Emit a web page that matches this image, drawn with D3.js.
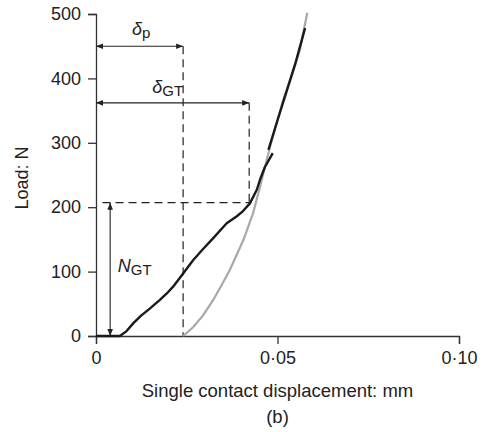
<!DOCTYPE html>
<html>
<head>
<meta charset="utf-8">
<script src="https://cdn.jsdelivr.net/npm/d3@7"></script>
<style>
  body { margin: 0; background: #fff; }
  svg { display: block; font-family: 'Liberation Sans', Arial, sans-serif; }
</style>
</head>
<body>
<div id="chart"></div>
<script>
// black loading curve (lower part)
const lowerX = [0, 0.0066, 0.0085, 0.0103, 0.0125, 0.0149, 0.0176, 0.0195, 0.0213, 0.024, 0.0268, 0.0295, 0.0323, 0.036, 0.0388, 0.0405, 0.0424, 0.0443, 0.0452, 0.0465, 0.0487]
const lowerY = [0, 0, 8, 20, 32, 43, 56, 66, 77, 97, 118, 135, 152, 175, 186, 194, 206, 227, 243, 262, 284]

// black curve (upper part)
const upperX = [0.0475, 0.05, 0.0525, 0.055, 0.0576]
const upperY = [289, 335, 380, 425, 478]

// grey curve
const greyX = [0.024, 0.0268, 0.0295, 0.0323, 0.0345, 0.0369, 0.0406, 0.0433, 0.0452, 0.048, 0.0516, 0.054, 0.0562, 0.0582]
const greyY = [0, 14, 32, 56, 78, 103, 149, 191, 232, 295, 367, 405, 445, 502]

const xTicks = [0, 0.05, 0.1]
const xTickLabels = ['0', '0·05', '0·10']
const yTicks = [0, 100, 200, 300, 400, 500]

// annotation values
const deltaP = 0.024
const deltaGT = 0.0422
const nGT = 207
const nGTx = 0.0039
const deltaPLoad = 450
const deltaGTLoad = 362

const margin = { top: 14, right: 23, bottom: 96, left: 96 }
const width = 482 - margin.left - margin.right
const height = 432 - margin.top - margin.bottom

const svg = d3
  .select('#chart')
  .append('svg')
  .attr('width', 482)
  .attr('height', 432)

const defs = svg.append('defs')
defs.append('marker')
  .attr('id', 'arrow')
  .attr('viewBox', '0 0 10 10')
  .attr('refX', 10)
  .attr('refY', 5)
  .attr('markerWidth', 7)
  .attr('markerHeight', 7)
  .attr('markerUnits', 'userSpaceOnUse')
  .attr('orient', 'auto-start-reverse')
  .append('path')
  .attr('d', 'M0,1 L10,5 L0,9 Z')
  .attr('fill', '#222')

const g = svg.append('g')
  .attr('transform', 'translate(' + margin.left + ',' + margin.top + ')')

const x = d3.scaleLinear().domain([0, 0.1]).range([0, width])
const y = d3.scaleLinear().domain([0, 500]).range([height, 0])

const xAxis = d3.axisBottom(x)
  .tickValues(xTicks)
  .tickFormat((d, i) => xTickLabels[i])
  .tickSizeOuter(0)
  .tickSize(8)
  .tickPadding(7)

const yAxis = d3.axisLeft(y)
  .tickValues(yTicks)
  .tickSizeOuter(0)
  .tickSize(8)
  .tickPadding(7)

g.append('g')
  .attr('transform', 'translate(0,' + height + ')')
  .call(xAxis)
g.append('g').call(yAxis)

g.selectAll('.domain, .tick line')
  .attr('stroke', '#333')
  .attr('stroke-width', 1.3)
g.selectAll('.tick text')
  .attr('fill', '#222')
  .attr('font-size', 18)
  .attr('font-family', "'Liberation Sans', Arial, sans-serif")

// dashed guide lines
const dash = '8,5'
g.append('line')
  .attr('x1', x(deltaP)).attr('x2', x(deltaP))
  .attr('y1', y(deltaPLoad)).attr('y2', y(0))
  .attr('stroke', '#222').attr('stroke-width', 1.2).attr('stroke-dasharray', dash)
g.append('line')
  .attr('x1', x(deltaGT)).attr('x2', x(deltaGT))
  .attr('y1', y(deltaGTLoad)).attr('y2', y(nGT))
  .attr('stroke', '#222').attr('stroke-width', 1.2).attr('stroke-dasharray', dash)
g.append('line')
  .attr('x1', x(0.0018)).attr('x2', x(deltaGT))
  .attr('y1', y(nGT)).attr('y2', y(nGT))
  .attr('stroke', '#222').attr('stroke-width', 1.2).attr('stroke-dasharray', dash)

// arrows
function arrow(x1, y1, x2, y2) {
  g.append('line')
    .attr('x1', x1).attr('y1', y1).attr('x2', x2).attr('y2', y2)
    .attr('stroke', '#222').attr('stroke-width', 1.1)
    .attr('marker-start', 'url(#arrow)')
    .attr('marker-end', 'url(#arrow)')
}
arrow(x(0), y(deltaPLoad), x(deltaP), y(deltaPLoad))
arrow(x(0), y(deltaGTLoad), x(deltaGT), y(deltaGTLoad))
arrow(x(nGTx), y(nGT), x(nGTx), y(0))

// curves
const line = d3.line()
  .x(d => x(d[0]))
  .y(d => y(d[1]))

g.append('path')
  .datum(greyX.map((v, i) => [v, greyY[i]]))
  .attr('d', line)
  .attr('fill', 'none')
  .attr('stroke', '#a8a8a8')
  .attr('stroke-width', 2.2)

g.append('path')
  .datum(lowerX.map((v, i) => [v, lowerY[i]]))
  .attr('d', line)
  .attr('fill', 'none')
  .attr('stroke', '#1a1a1a')
  .attr('stroke-width', 2.4)
  .attr('stroke-linejoin', 'round')

g.append('path')
  .datum(upperX.map((v, i) => [v, upperY[i]]))
  .attr('d', line)
  .attr('fill', 'none')
  .attr('stroke', '#1a1a1a')
  .attr('stroke-width', 2.4)
  .attr('stroke-linejoin', 'round')

// labels
function subLabel(px, py, main, sub) {
  const t = g.append('text')
    .attr('x', px).attr('y', py)
    .attr('font-size', 18)
    .attr('fill', '#222')
  t.append('tspan')
    .attr('font-style', 'italic')
    .text(main)
  t.append('tspan')
    .attr('dy', 3)
    .attr('font-size', 15)
    .text(sub)
}
subLabel(x(0.0099), y(deltaPLoad) - 11, 'δ', 'p')
subLabel(x(0.0155), y(deltaGTLoad) - 10, 'δ', 'GT')
subLabel(x(0.006), y(100), 'N', 'GT')

svg.append('text')
  .attr('transform', 'translate(28,' + (margin.top + height / 2 + 3) + ') rotate(-90)')
  .attr('text-anchor', 'middle')
  .attr('font-size', 18)
  .attr('fill', '#222')
  .text('Load: N')

svg.append('text')
  .attr('x', margin.left + width / 2)
  .attr('y', 397)
  .attr('text-anchor', 'middle')
  .attr('font-size', 18.5)
  .attr('fill', '#222')
  .text('Single contact displacement: mm')

svg.append('text')
  .attr('x', margin.left + width / 2)
  .attr('y', 423)
  .attr('text-anchor', 'middle')
  .attr('font-size', 18.5)
  .attr('fill', '#222')
  .text('(b)')
</script>
</body>
</html>
